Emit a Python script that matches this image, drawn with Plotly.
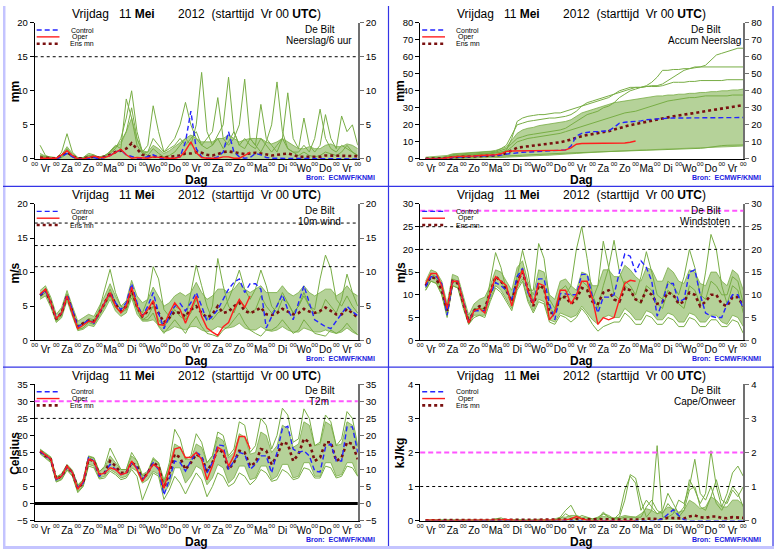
import plotly.graph_objects as go

W, H = 778, 554
FONT = "Liberation Sans, Arial, sans-serif"

# time axis: 6-hourly steps from +6h to +360h (15 days from Vr 11 Mei 00 UTC)
hours = list(range(6, 361, 6))
oper_hours = hours[:40]
midnights = list(range(0, 361, 24))
noons = list(range(12, 360, 24))
day_names = ["Vr", "Za", "Zo", "Ma", "Di", "Wo", "Do", "Vr",
             "Za", "Zo", "Ma", "Di", "Wo", "Do", "Vr"]

# ---------------- Neerslag / 6 uur (mm) ----------------
rr_control = [0, 0, 0, 0, 0.3, 0.8, 0.3, 0, 0, 0.1, 0.2, 0, 0.2, 0.5, 1.0, 1.3,
              0.6, 0.3, 0.1, 0.1, 0.3, 0.6, 0.2, 0, 0, 0.1, 0.3, 2.5, 7.0, 1.5, 0.3, 0.1,
              0.1, 0.3, 1.0, 4.0, 1.0, 0.3, 0.1, 0.2, 0.8, 0.6, 0.2, 0.1, 0.1, 0.1, 0.1, 0.1,
              0.1, 0, 0, 0, 0, 0, 0, 0, 0, 0, 0, 0]
rr_oper = [0.1, 0.1, 0, 0.1, 0.6, 1.2, 0.5, 0, 0, 0.2, 0.4, 0.2, 0.2, 0.5, 1.0, 1.4,
           0.6, 0.1, 0.2, 0.1, 0.1, 0.3, 0.2, 0.1, 0.1, 0.1, 0.3, 1.2, 2.5, 0.9, 0.2, 0.1,
           0.1, 0.1, 0.3, 0.3, 0.1, 0.1, 0.5, 1.0]
rr_mean = [0.2, 0.1, 0.1, 0.1, 0.5, 1.0, 0.4, 0.1, 0.1, 0.2, 0.3, 0.2, 0.3, 0.6, 1.0, 1.2,
           1.5, 2.3, 1.5, 0.6, 0.4, 0.4, 0.3, 0.2, 0.3, 0.4, 0.5, 0.8, 0.8, 1.0, 0.9, 0.6,
           0.5, 0.7, 1.0, 1.1, 1.0, 0.8, 0.7, 0.8, 0.9, 0.8, 0.6, 0.5, 0.6, 0.7, 0.8, 0.6,
           0.3, 0.3, 0.3, 0.2, 0.3, 0.5, 0.5, 0.4, 0.4, 0.5, 0.5, 0.4]
rr_hi = [0.8, 0.4, 0.3, 0.2, 0.6, 1.8, 0.8, 0.2, 0.2, 0.6, 0.5, 0.3, 0.5, 1.0, 1.8, 2.2,
         4.0, 6.0, 3.0, 1.2, 1.0, 2.0, 1.5, 0.8, 1.2, 1.8, 2.5, 3.0, 3.5, 3.0, 2.5, 2.5,
         2.5, 3.0, 3.0, 3.5, 3.0, 2.5, 2.8, 3.0, 3.0, 3.0, 2.5, 2.2, 2.5, 3.0, 2.5, 2.0,
         1.5, 1.5, 1.8, 1.5, 1.5, 2.0, 2.2, 1.8, 1.8, 2.2, 2.0, 1.5]
rr_members = [
    [0.3, 0.2, 0.1, 0, 0.2, 0.8, 0.3, 0, 0, 0.3, 0.2, 0, 0.3, 0.8, 1.5, 3.0,
     6.0, 10.0, 4.0, 1.0, 0.5, 1.5, 0.8, 0.3, 0.5, 1.0, 2.0, 3.0, 2.0, 5.0, 12.7, 4.0,
     2.0, 3.0, 1.5, 2.5, 4.0, 2.0, 1.5, 3.0, 2.0, 1.0, 2.5, 5.0, 11.3, 4.0, 1.5, 1.0,
     0.5, 1.0, 0.5, 0.3, 0.5, 1.0, 0.8, 0.5, 1.0, 2.0, 1.0, 0.5],
    [2.0, 0.5, 0.2, 0, 1.0, 3.7, 1.0, 0.2, 0.1, 0.5, 0.3, 0.2, 0.5, 1.0, 1.8, 2.5,
     4.0, 7.5, 3.0, 1.0, 2.0, 7.8, 4.0, 1.0, 1.5, 2.0, 3.0, 2.0, 3.0, 4.0, 2.0, 1.5,
     2.0, 3.5, 5.0, 12.0, 4.0, 2.0, 3.0, 2.0, 1.5, 3.0, 2.0, 1.0, 2.0, 3.0, 1.5, 1.0,
     1.0, 2.0, 1.0, 3.0, 7.3, 3.0, 1.5, 1.0, 2.0, 1.5, 1.0, 0.5],
    [0.5, 0.3, 0.1, 0, 0.3, 1.5, 0.5, 0.1, 0.2, 0.8, 0.6, 0.2, 0.3, 1.2, 2.0, 1.5,
     8.8, 6.0, 2.0, 0.8, 1.0, 3.0, 2.0, 1.0, 2.0, 3.0, 5.0, 8.3, 5.0, 3.0, 2.0, 3.0,
     4.0, 9.0, 3.0, 2.0, 3.0, 5.0, 11.7, 3.0, 2.0, 8.0, 3.0, 2.0, 1.0, 3.0, 9.7, 3.0,
     1.5, 6.0, 2.0, 1.0, 2.0, 6.5, 3.0, 1.5, 6.3, 4.0, 5.0, 2.0],
]

# ---------------- Accum Neerslag (mm) ----------------
acc_control = [0, 0, 0, 0.1, 0.5, 1.0, 1.1, 1.2, 1.3, 1.4, 1.5, 1.6, 1.8, 2.0, 2.2, 2.8,
               3.3, 3.7, 3.9, 4.0, 4.3, 4.5, 4.6, 4.7, 4.8, 5.0, 5.3, 7.5, 13.5, 15.0, 15.7, 16.0,
               16.1, 16.2, 16.5, 18.5, 21.0, 21.5, 21.7, 21.8, 22.3, 23.0, 23.3, 23.5, 23.7, 23.9, 24.0, 24.0,
               24.1, 24.1, 24.1, 24.2, 24.2, 24.2, 24.2, 24.3, 24.3, 24.3, 24.3, 24.3]
acc_oper = [0, 0, 0, 0.1, 0.7, 1.3, 1.5, 1.5, 1.5, 1.7, 2.0, 2.1, 2.2, 2.4, 3.0, 4.4,
            4.6, 4.7, 4.8, 4.9, 5.0, 5.0, 5.0, 5.0, 5.0, 5.0, 5.3, 6.5, 8.6, 9.0, 9.0, 9.0,
            9.0, 9.1, 9.1, 9.2, 9.3, 9.3, 9.8, 10.5]
acc_mean = [0.1, 0.1, 0.2, 0.3, 0.6, 1.0, 1.1, 1.2, 1.3, 1.5, 1.6, 1.7, 1.8, 2.0, 2.5, 3.3,
            5.0, 6.5, 7.0, 7.4, 7.8, 8.2, 8.5, 8.8, 9.2, 9.8, 10.5, 11.5, 12.5, 13.3, 14.0, 14.5,
            15.0, 15.5, 16.3, 17.2, 18.3, 19.0, 19.8, 20.5, 21.2, 22.0, 22.6, 23.2, 23.8, 24.4, 25.0, 25.6,
            26.1, 26.6, 27.0, 27.5, 28.0, 28.5, 29.0, 29.6, 30.2, 30.7, 31.2, 31.6]
acc_lo = [0, 0, 0, 0, 0, 0.2, 0.3, 0.3, 0.3, 0.4, 0.5, 0.5, 0.5, 0.6, 0.8, 1.0,
          1.2, 1.5, 1.6, 1.7, 1.8, 2.0, 2.1, 2.2, 2.3, 2.5, 2.7, 3.0, 3.2, 3.5, 3.7, 3.9,
          4.0, 4.2, 4.4, 4.5, 4.6, 4.8, 5.0, 5.1, 5.2, 5.3, 5.4, 5.5, 5.6, 5.7, 5.8, 6.0,
          6.1, 6.2, 6.3, 6.5, 6.6, 6.7, 6.8, 7.0, 7.0, 7.2, 7.4, 7.6]
acc_hi = [1.0, 1.2, 1.3, 1.5, 2.0, 3.0, 3.2, 3.3, 3.5, 3.8, 4.0, 4.2, 4.5, 5.0, 6.0, 7.0,
          11, 15, 17, 18, 18.5, 19.5, 20, 20.5, 21, 21.5, 22, 23, 25, 27, 28, 29,
          30, 31, 32, 33, 33.5, 34, 34.5, 35, 35.5, 36, 36.5, 37, 37, 37.5, 37.5, 38,
          38, 38.5, 38.5, 39, 39, 39.5, 39.5, 40, 40, 40.5, 40.5, 41]
acc_members = [
    [0.2, 0.3, 0.4, 0.5, 1, 2, 2.3, 2.5, 2.7, 3, 3.2, 3.4, 3.6, 4, 5, 6,
     9, 12, 13, 14, 14.5, 15, 15.5, 16, 16.5, 17, 18, 20, 22, 24, 26, 27,
     28, 30, 31, 33, 36, 38, 40, 41, 42, 43, 45, 48, 52, 52, 52.5, 52.5,
     53, 53, 53.5, 54, 55, 58, 61, 62, 63, 64, 65, 65],
    [0.1, 0.2, 0.3, 0.4, 0.8, 1.5, 1.8, 2, 2.2, 2.4, 2.6, 2.8, 3, 3.5, 4, 5,
     12, 22, 24, 25, 25.5, 26, 26, 26.5, 27, 27, 28, 29, 30, 31, 32, 33,
     34, 35, 36, 38, 40, 41, 42, 42, 42, 42.5, 43, 43, 44, 46, 48, 50,
     52, 53, 54, 54, 54, 54, 54, 54, 54, 54, 54, 54],
    [0, 0.1, 0.1, 0.2, 0.3, 0.5, 0.6, 0.7, 0.8, 0.9, 1, 1, 1.1, 1.2, 1.4, 1.5,
     1.7, 2, 2.2, 2.4, 2.5, 2.6, 2.8, 3, 3, 3.2, 3.4, 3.5, 3.6, 3.8, 4, 4.1,
     4.2, 4.4, 4.5, 4.6, 4.7, 4.8, 4.9, 5, 5, 5, 5.1, 5.2, 5.3, 5.5, 5.5, 5.6,
     5.7, 5.8, 6, 6.2, 6.5, 7, 7.5, 7.8, 8, 8, 8.1, 8.2],
    [0.2, 0.3, 0.4, 0.5, 1, 1.5, 1.7, 2, 2.2, 2.5, 2.7, 3, 3.2, 3.5, 4, 4.5,
     7, 10, 11, 12, 12.5, 13, 13.5, 14, 14.5, 15, 16, 17, 18, 19, 20, 21,
     22, 23, 24, 25, 26, 27, 27.5, 28, 29, 30, 31, 32, 33, 34, 34.5, 35,
     35.5, 36, 36, 36.5, 37, 37, 37, 37, 37, 37.5, 37.5, 37.5],
    [0.3, 0.5, 0.6, 0.8, 1.5, 2.5, 2.8, 3, 3.2, 3.4, 3.6, 3.8, 4, 4.5, 6, 8,
     14, 20, 21, 22, 22.5, 23, 23.5, 24, 24, 24.5, 25, 26, 28, 31, 33, 34,
     35, 36, 37, 38, 39, 40, 41, 42, 42, 42.5, 42.5, 42.5, 43, 44, 45, 45,
     45, 45.5, 45.5, 46, 46, 46, 46, 46, 46.5, 46.5, 46.5, 46.5],
]

# ---------------- 10 m wind (m/s) ----------------
w10_control = [6.6, 7.3, 5.5, 3.3, 4.0, 6.7, 4.5, 2.0, 2.4, 3.0, 2.5, 4.0, 5.5, 7.0, 5.5, 4.5,
               5.5, 8.3, 5.5, 3.5, 5.0, 7.0, 4.0, 1.7, 3.5, 5.0, 5.4, 4.3, 5.5, 7.0, 5.0, 2.8,
               3.5, 4.5, 6.0, 7.5, 8.5, 9.0, 7.0, 8.3, 8.3, 7.5, 1.8, 3.5, 5.0, 6.7, 4.5, 3.0,
               5.5, 8.0, 5.5, 3.0, 2.5, 2.0, 1.7, 2.8, 4.0, 5.0, 4.2, 3.6]
w10_oper = [6.8, 7.5, 5.5, 3.2, 4.0, 6.5, 4.0, 1.7, 2.2, 2.8, 2.6, 4.0, 5.5, 7.0, 5.0, 4.0,
            5.0, 7.8, 5.0, 3.5, 4.5, 5.8, 2.3, 2.2, 4.0, 5.5, 4.5, 2.5, 4.5, 6.5, 3.5, 1.8,
            1.2, 0.7, 2.0, 2.6, 4.5, 6.0, 4.8, 6.5]
w10_mean = [6.6, 7.3, 5.5, 3.1, 4.0, 6.6, 4.2, 2.0, 2.5, 2.9, 2.8, 4.0, 5.5, 7.0, 5.3, 4.3,
            5.0, 7.5, 5.0, 3.5, 4.3, 5.5, 4.0, 2.6, 3.3, 4.2, 4.0, 3.5, 4.5, 5.0, 4.0, 3.3,
            3.8, 5.0, 4.0, 4.2, 5.0, 5.5, 4.3, 4.0, 4.3, 4.8, 3.8, 3.7, 4.0, 4.6, 4.2, 3.8,
            4.0, 4.6, 4.2, 4.0, 4.3, 4.8, 4.3, 3.8, 3.8, 4.6, 4.0, 3.3]
w10_lo = [6.0, 6.5, 4.8, 2.6, 3.3, 5.8, 3.5, 1.4, 1.6, 2.2, 2.0, 3.2, 4.5, 6.0, 4.3, 3.5,
          4.0, 6.2, 3.8, 2.8, 2.8, 3.0, 2.2, 1.2, 1.5, 2.0, 1.8, 1.5, 2.0, 2.0, 1.5, 1.2,
          1.5, 2.0, 1.8, 1.8, 2.0, 2.5, 1.8, 1.5, 1.5, 2.0, 1.5, 1.3, 1.5, 2.0, 1.5, 1.2,
          1.2, 1.8, 1.5, 1.2, 1.2, 1.5, 1.2, 1.0, 1.2, 1.8, 1.2, 0.8]
w10_hi = [7.3, 8.0, 6.3, 3.8, 4.8, 7.3, 5.0, 2.8, 3.3, 3.8, 3.5, 5.0, 6.5, 8.3, 6.5, 5.0,
          5.8, 8.8, 6.5, 5.5, 6.0, 7.8, 6.5, 5.0, 5.5, 6.5, 7.0, 6.5, 7.0, 8.5, 7.0, 6.0,
          6.5, 7.5, 7.5, 7.0, 7.5, 8.5, 7.5, 7.0, 7.5, 8.0, 7.0, 7.0, 7.0, 8.0, 7.0, 6.5,
          7.0, 8.0, 7.0, 6.5, 7.0, 7.5, 7.5, 6.5, 7.0, 8.0, 7.0, 6.5]
w10_members = [
    [6.5, 7.3, 5.5, 3.0, 4.0, 6.5, 4.0, 2.0, 2.5, 3.0, 2.7, 4.0, 5.5, 7.5, 5.5, 4.5,
     5.0, 7.5, 5.0, 4.0, 6.0, 10.8, 9.0, 4.5, 3.5, 5.0, 4.5, 3.0, 4.0, 6.0, 4.0, 3.0,
     5.0, 12.0, 8.0, 5.0, 4.0, 6.0, 5.0, 4.0, 4.5, 6.5, 5.0, 4.0, 5.0, 7.0, 5.5, 4.0,
     5.0, 6.5, 5.0, 4.5, 9.0, 12.5, 10.5, 6.0, 5.0, 6.5, 5.0, 4.0],
    [6.8, 7.6, 5.8, 3.2, 4.2, 6.8, 4.4, 2.2, 2.4, 3.2, 3.0, 4.5, 7.5, 10.4, 7.0, 5.0,
     4.5, 7.0, 4.5, 3.0, 3.5, 5.0, 3.0, 2.0, 3.0, 4.5, 3.5, 3.0, 7.0, 11.0, 8.0, 5.0,
     3.0, 4.0, 4.5, 6.0, 8.0, 10.3, 7.5, 6.0, 7.5, 10.3, 8.0, 5.0, 4.0, 6.0, 5.5, 4.0,
     5.0, 7.0, 5.0, 4.0, 4.0, 6.0, 5.0, 4.0, 6.0, 9.7, 7.0, 5.0],
    [6.3, 7.0, 5.2, 2.8, 3.6, 6.2, 3.8, 1.6, 1.8, 2.6, 2.3, 3.6, 5.0, 6.5, 4.8, 4.0,
     4.5, 6.8, 4.5, 3.0, 3.0, 4.0, 2.0, 1.0, 2.0, 3.0, 2.0, 1.0, 2.5, 3.5, 2.0, 1.0,
     0.8, 0.5, 1.5, 2.0, 3.0, 4.0, 2.5, 1.5, 1.0, 0.6, 1.5, 1.5, 2.0, 3.0, 2.0, 1.0,
     1.5, 3.0, 2.0, 1.0, 0.8, 0.6, 1.5, 1.0, 1.5, 2.5, 1.5, 0.8],
]

# ---------------- Windstoten (m/s) ----------------
gust_control = [11.8, 14.0, 14.0, 12.5, 5.5, 13.0, 13.0, 8.5, 4.0, 6.5, 6.5, 6.5, 10.0, 12.7, 12.0, 11.0,
                9.0, 14.0, 15.8, 10.5, 8.0, 13.5, 13.5, 8.0, 4.5, 10.3, 10.2, 10.0, 10.0, 14.5, 14.5, 9.5,
                6.0, 9.5, 9.5, 10.0, 15.0, 19.0, 18.5, 15.0, 17.5, 16.0, 13.0, 5.3, 8.5, 12.5, 12.5, 8.5,
                9.0, 15.0, 15.5, 10.0, 6.0, 5.3, 5.0, 5.0, 8.0, 10.0, 10.0, 7.0]
gust_oper = [12.5, 14.7, 14.7, 12.0, 7.0, 13.0, 13.0, 8.5, 3.8, 6.5, 7.0, 6.0, 10.5, 14.0, 13.0, 12.0,
             7.5, 12.0, 15.5, 11.0, 8.0, 12.5, 12.0, 4.5, 6.0, 11.0, 11.0, 8.0, 10.0, 13.0, 13.0, 9.0,
             3.5, 5.0, 4.5, 5.0, 9.0, 12.5, 13.2, 13.0]
gust_mean = [12.0, 14.0, 13.5, 11.0, 6.5, 13.0, 12.5, 8.5, 4.0, 6.5, 7.5, 7.0, 10.5, 14.0, 13.0, 11.0,
             8.5, 13.0, 15.0, 11.0, 7.5, 12.0, 11.5, 6.0, 6.0, 9.5, 9.5, 8.0, 9.0, 11.5, 11.0, 8.5,
             8.0, 10.5, 11.0, 9.0, 8.5, 11.5, 11.0, 9.0, 8.5, 11.0, 10.0, 8.0, 8.5, 10.5, 10.0, 8.0,
             8.5, 10.5, 10.0, 7.5, 8.5, 10.0, 10.0, 8.0, 7.5, 9.5, 9.5, 7.5]
gust_lo = [11, 13, 12.5, 10, 5.5, 12, 11.5, 7.5, 3.5, 5.5, 5.5, 5.5, 9, 12, 11, 9,
           7, 11.5, 13.5, 9, 6.5, 9, 8.5, 4.5, 4, 6, 5.5, 5, 5.5, 7.5, 6, 4.5,
           3.5, 5, 5.5, 5, 5, 7, 6, 4.5, 4.5, 6.5, 6, 4.5, 4.5, 6, 5.5, 4,
           4, 6, 5.5, 4, 4, 5.5, 5.5, 4, 3.5, 5.5, 5, 3]
gust_hi = [13, 15.5, 15, 13, 8, 14.5, 14, 10, 5.5, 8, 9, 9.5, 12, 15.5, 15, 13,
           11, 16, 17.5, 13, 10, 15.5, 15, 10, 9, 13, 13.5, 12, 11, 15, 14.5, 12,
           12, 15.5, 15.5, 14, 14, 16.5, 15.5, 14, 13, 16, 15.5, 13, 13, 16, 15, 13,
           12.5, 15.5, 15, 12.5, 12, 15, 15, 13, 12, 15.5, 14.5, 11]
gust_members = [
    [12, 14.5, 14, 12, 6.5, 13.5, 13, 8.5, 4.5, 7, 7, 7, 10.5, 14, 13, 10.5,
     9, 14, 19.8, 15, 8, 12, 11, 7, 6, 9, 10, 12, 20, 25, 18, 10,
     7, 12, 16, 22, 15, 12, 11, 9, 8, 12, 11, 8, 7, 11, 10, 8,
     7, 12, 11, 8, 15, 23.3, 20, 12, 8, 12, 11, 6],
    [11.5, 14, 13.5, 11, 6, 13, 12.5, 8, 4, 6.5, 7, 6.5, 13, 19.3, 16, 11,
     8, 13, 16, 11, 11, 21.3, 18, 9, 7, 11, 12, 10, 9, 13, 12, 9,
     12, 21.8, 16, 10, 9, 13, 12, 10, 14, 19.5, 15, 10, 9, 13, 12, 10,
     14, 20, 16, 10, 9, 13, 12, 10, 10, 14, 13, 8],
    [11, 13, 12.5, 10, 5, 12, 11.5, 7, 3.5, 5, 5.5, 5, 8.5, 11.5, 10.5, 8.5,
     6.5, 11, 13, 8.5, 6, 8.5, 8, 4, 3.5, 5.5, 5, 4, 5, 7, 5.5, 3.5,
     2, 3, 3.5, 4, 4, 6, 5, 3.5, 3.5, 5.5, 5, 3.5, 3.5, 5, 4.5, 3,
     3, 5, 4.5, 3, 3, 4.5, 4.5, 3, 3, 4.5, 4, 1.5],
]

# ---------------- T2m (Celsius) ----------------
t2m_control = [15.3, 14.0, 13.0, 7.0, 8.0, 10.8, 9.0, 4.7, 6.0, 13.5, 12.5, 8.0, 9.0, 11.5, 10.0, 8.5,
               9.0, 12.0, 10.5, 7.0, 9.0, 12.0, 10.0, 2.5, 7.0, 12.5, 12.0, 9.5, 12.5, 15.0, 14.0, 9.0,
               12.0, 17.2, 17.0, 10.0, 12.5, 15.0, 14.5, 10.0, 11.5, 14.0, 14.0, 9.0, 15.0, 22.0, 22.7, 16.0,
               15.0, 15.5, 14.0, 9.5, 9.3, 16.5, 17.5, 12.5, 12.5, 22.5, 22.5, 15.0]
t2m_oper = [15.5, 14.2, 13.0, 7.2, 8.0, 11.0, 9.0, 4.2, 6.5, 13.0, 12.5, 8.5, 9.0, 10.5, 10.0, 8.5,
            9.0, 12.5, 10.0, 6.5, 9.0, 11.5, 10.5, 4.5, 10.0, 16.0, 16.5, 13.5, 13.5, 15.0, 13.0, 7.0,
            11.0, 16.5, 15.5, 11.0, 14.0, 19.7, 19.7, 16.0]
t2m_mean = [15.3, 14.0, 13.0, 7.2, 8.0, 10.8, 9.0, 4.5, 6.0, 13.0, 12.5, 8.5, 9.0, 12.5, 11.0, 9.0,
            9.0, 12.0, 11.0, 7.0, 9.0, 12.0, 11.0, 4.5, 9.0, 14.5, 13.5, 10.0, 12.0, 14.5, 13.5, 9.5,
            12.0, 16.0, 15.0, 10.0, 12.0, 15.5, 15.0, 11.0, 12.0, 16.0, 15.5, 11.5, 14.0, 18.0, 17.5, 12.5,
            14.5, 19.0, 18.0, 12.5, 13.5, 18.0, 18.0, 12.5, 13.5, 18.0, 17.5, 13.0]
t2m_lo = [14.8, 13.5, 12.3, 6.5, 7.2, 10.0, 8.3, 3.5, 5.2, 11.5, 11.0, 7.5, 8.0, 10.0, 9.0, 7.5,
          8.0, 10.5, 9.5, 6.0, 7.0, 9.5, 8.5, 3.0, 5.5, 10.5, 10.5, 6.0, 8.0, 11.0, 10.0, 5.5,
          7.5, 11.5, 10.5, 6.0, 7.5, 11.0, 11.0, 7.0, 7.5, 11.0, 11.0, 7.0, 8.0, 11.5, 11.5, 7.5,
          8.0, 12.0, 12.0, 8.0, 8.0, 12.0, 12.0, 8.0, 8.5, 12.0, 12.0, 8.0]
t2m_hi = [16.0, 14.8, 13.7, 7.8, 8.8, 11.5, 9.8, 5.5, 7.0, 14.0, 13.5, 9.5, 10.5, 14.0, 12.0, 10.0,
          10.0, 14.0, 12.5, 8.5, 9.5, 13.5, 12.0, 7.0, 11.0, 17.5, 16.5, 13.0, 13.0, 17.5, 16.5, 12.0,
          14.0, 19.5, 18.5, 13.5, 15.0, 20.5, 19.5, 14.5, 15.0, 21.0, 20.0, 15.0, 17.0, 23.0, 22.0, 16.5,
          17.5, 24.0, 23.0, 17.0, 17.5, 24.0, 23.0, 17.0, 17.5, 24.0, 23.0, 16.5]
t2m_members = [
    [15.8, 14.6, 13.5, 7.6, 8.6, 11.3, 9.6, 5.3, 6.8, 13.8, 13.3, 9.3, 11, 16.3, 13, 10,
     10, 15, 12.5, 8, 9, 13, 12, 6, 12, 21.8, 19, 13, 14, 20.5, 18, 12,
     14, 21, 20, 14, 16, 24, 23, 15, 17, 25, 23, 16, 20, 28, 26, 18,
     19, 27.8, 25, 17, 18, 26, 24, 17, 19, 27, 25, 17],
    [14.6, 13.3, 12, 6.3, 7, 9.8, 8, 3.2, 5, 11, 10.5, 7.2, 7.5, 9.5, 8.5, 7,
     7.5, 10, 8, 1, 5, 9, 8, 1.2, 4, 8, 6, 2.8, 6, 9, 7, 2,
     5, 9, 8, 5, 6, 9, 8, 5.5, 7, 10, 9, 6.5, 7, 10, 9, 7,
     7.5, 10.5, 10, 7.5, 7.5, 11, 10.5, 7.5, 8, 11, 10.5, 8],
]

# ---------------- Cape / Onweer (kJ/kg) ----------------
cape_control = [0, 0, 0, 0, 0, 0, 0, 0, 0, 0, 0, 0, 0, 0, 0, 0,
                0, 0, 0, 0, 0, 0, 0, 0, 0, 0, 0, 0, 0, 0, 0, 0,
                0, 0, 0, 0, 0, 0, 0, 0, 0, 0, 0, 0, 0.05, 0.2, 0.32, 0.15,
                0.02, 0, 0, 0, 0, 0, 0, 0, 0, 0, 0, 0]
cape_oper = [0.01, 0.02, 0.01, 0, 0, 0, 0, 0, 0, 0, 0, 0, 0, 0.01, 0.02, 0.03,
             0.01, 0, 0, 0, 0, 0, 0, 0, 0, 0.01, 0.02, 0.05, 0.12, 0.05, 0.01, 0,
             0, 0, 0, 0, 0, 0, 0, 0]
cape_mean = [0.01, 0.01, 0.01, 0.01, 0.01, 0.01, 0.01, 0.01, 0.01, 0.01, 0.01, 0.01, 0.01, 0.01, 0.01, 0.01,
             0.01, 0.01, 0.01, 0.01, 0.01, 0.01, 0.01, 0.01, 0.01, 0.02, 0.03, 0.04, 0.04, 0.03, 0.02, 0.02,
             0.02, 0.03, 0.02, 0.02, 0.02, 0.03, 0.04, 0.03, 0.03, 0.05, 0.06, 0.04, 0.04, 0.08, 0.08, 0.06,
             0.06, 0.12, 0.15, 0.10, 0.08, 0.12, 0.12, 0.08, 0.07, 0.10, 0.10, 0.08]
cape_hi = [0.03, 0.03, 0.02, 0.02, 0.01, 0.02, 0.01, 0.01, 0.01, 0.02, 0.01, 0.01, 0.02, 0.05, 0.03, 0.02,
           0.02, 0.04, 0.02, 0.01, 0.02, 0.04, 0.02, 0.01, 0.05, 0.1, 0.1, 0.15, 0.15, 0.1, 0.08, 0.05,
           0.08, 0.12, 0.1, 0.08, 0.1, 0.15, 0.12, 0.1, 0.2, 0.35, 0.3, 0.2, 0.25, 0.4, 0.35, 0.25,
           0.3, 0.6, 0.5, 0.35, 0.4, 0.7, 0.6, 0.4, 0.4, 0.6, 0.6, 0.45]
cape_members = [
    [0, 0, 0, 0, 0, 0, 0, 0, 0, 0, 0, 0, 0, 0.05, 0.08, 0.02,
     0, 0, 0, 0, 0, 0, 0, 0, 0, 0.1, 0.3, 0.45, 0.15, 0.05, 0.02, 0,
     0.05, 0.25, 0.1, 0.05, 0.1, 0.6, 1.35, 1.25, 0.6, 0.1, 0.3, 2.2, 0.1, 0.1, 0.2, 0.6,
     0.5, 1.0, 1.8, 0.8, 0.6, 1.0, 0.5, 0.3, 0.6, 1.0, 0.8, 0.4],
    [0, 0, 0, 0, 0, 0, 0, 0, 0, 0, 0, 0, 0, 0, 0, 0,
     0, 0, 0, 0, 0, 0, 0, 0, 0, 0, 0, 0, 0, 0, 0, 0,
     0, 0.2, 0.1, 0.05, 0.2, 0.9, 1.3, 1.1, 0.3, 0.6, 0.4, 0.2, 0.3, 0.8, 0.5, 0.2,
     0.4, 1.2, 0.9, 0.5, 0.8, 2.05, 1.0, 0.4, 0.8, 1.4, 1.6, 1.3],
    [0, 0, 0, 0, 0, 0, 0, 0, 0, 0, 0, 0, 0, 0, 0, 0,
     0, 0, 0, 0, 0, 0, 0, 0, 0.02, 0.05, 0.2, 0.1, 0.05, 0.15, 0.1, 0.05,
     0.1, 0.2, 0.15, 0.05, 0.05, 0.1, 0.1, 0.1, 0.1, 0.4, 0.6, 0.3, 0.2, 0.5, 0.3, 0.1,
     0.3, 0.9, 1.0, 0.4, 0.3, 0.7, 1.2, 0.6, 0.5, 0.9, 0.7, 1.0],
]

# ---------------- panels ----------------
GREEN = "#78ad45"
BAND = "rgba(120,173,69,0.55)"
BLUE = "#2424ff"
RED = "#ff1e1e"
DKRED = "#7a1010"
MAGENTA = "#ff55ff"

panels = [
    dict(ox=0, oy=0, name="Neerslag/6 uur", unit="mm", yr=[0, 20], dt=5,
         ctl=rr_control, op=rr_oper, mn=rr_mean, lo=None, hi=rr_hi, mem=rr_members,
         dotted=[15], magenta=[], thick=[]),
    dict(ox=389, oy=0, name="Accum Neerslag", unit="mm", yr=[0, 80], dt=10,
         ctl=acc_control, op=acc_oper, mn=acc_mean, lo=acc_lo, hi=acc_hi, mem=acc_members,
         dotted=[], magenta=[], thick=[]),
    dict(ox=0, oy=185, name="10m wind", unit="m/s", yr=[0, 20], dt=5,
         ctl=w10_control, op=w10_oper, mn=w10_mean, lo=w10_lo, hi=w10_hi, mem=w10_members,
         dotted=[10.8, 13.9, 17.2], magenta=[], thick=[]),
    dict(ox=389, oy=185, name="Windstoten", unit="m/s", yr=[0, 30], dt=5,
         ctl=gust_control, op=gust_oper, mn=gust_mean, lo=gust_lo, hi=gust_hi, mem=gust_members,
         dotted=[20, 25], magenta=[28.5], thick=[]),
    dict(ox=0, oy=369, name="T2m", unit="Celsius", yr=[-5, 35], dt=5,
         ctl=t2m_control, op=t2m_oper, mn=t2m_mean, lo=t2m_lo, hi=t2m_hi, mem=t2m_members,
         dotted=[25], magenta=[30], thick=[0]),
    dict(ox=389, oy=369, name="Cape/Onweer", unit="kJ/kg", yr=[0, 4], dt=1,
         ctl=cape_control, op=cape_oper, mn=cape_mean, lo=None, hi=cape_hi, mem=cape_members,
         dotted=[1], magenta=[2], thick=[]),
]


def px(x):
    return x / W


def py(y):
    return 1 - y / H


fig = go.Figure()
layout = dict(width=W, height=H, margin=dict(l=0, r=0, t=0, b=0), autosize=False,
              paper_bgcolor="white", plot_bgcolor="white", showlegend=False,
              font=dict(family=FONT, color="black"))
shapes = []
annotations = []

title_txt = ("Vrijdag\u00a0\u00a0 11 <b>Mei</b>\u00a0\u00a0\u00a0\u00a0\u00a0\u00a0 2012\u00a0 "
             "(starttijd\u00a0 Vr 00 <b>UTC</b>)")

for k, p in enumerate(panels, start=1):
    sx = "" if k == 1 else str(k)
    xa, ya = "x" + sx, "y" + sx
    yr_ax = "y" + str(k + 6)      # right-hand y axis
    x00 = "x" + str(k + 6)        # second x axis carrying the "00" labels
    ox, oy = p["ox"], p["oy"]

    # ensemble plume
    if p["lo"] is not None:
        fig.add_trace(go.Scatter(x=hours, y=p["lo"], mode="lines", xaxis=xa, yaxis=ya,
                                 line=dict(color=GREEN, width=0.8), hoverinfo="skip"))
        fig.add_trace(go.Scatter(x=hours, y=p["hi"], mode="lines", xaxis=xa, yaxis=ya,
                                 fill="tonexty", fillcolor=BAND,
                                 line=dict(color=GREEN, width=0.8), hoverinfo="skip"))
    else:
        fig.add_trace(go.Scatter(x=hours, y=p["hi"], mode="lines", xaxis=xa, yaxis=ya,
                                 fill="tozeroy", fillcolor=BAND,
                                 line=dict(color=GREEN, width=0.8), hoverinfo="skip"))
    for m in p["mem"]:
        fig.add_trace(go.Scatter(x=hours, y=m, mode="lines", xaxis=xa, yaxis=ya,
                                 line=dict(color=GREEN, width=1), hoverinfo="skip"))

    fig.add_trace(go.Scatter(x=hours, y=p["mn"], mode="lines", xaxis=xa, yaxis=ya,
                             line=dict(color=DKRED, width=2.6, dash="dot"), name="Ens mn"))
    fig.add_trace(go.Scatter(x=hours, y=p["ctl"], mode="lines", xaxis=xa, yaxis=ya,
                             line=dict(color=BLUE, width=1.4, dash="5px,3px"), name="Control"))
    fig.add_trace(go.Scatter(x=oper_hours, y=p["op"], mode="lines", xaxis=xa, yaxis=ya,
                             line=dict(color=RED, width=1.4), name="Oper"))
    # carriers for the extra axes
    fig.add_trace(go.Scatter(x=[None], y=[None], xaxis=xa, yaxis=yr_ax, hoverinfo="skip"))
    fig.add_trace(go.Scatter(x=[None], y=[None], xaxis=x00, yaxis=ya, hoverinfo="skip"))

    xdom = [px(ox + 32), px(ox + 358)]
    ydom = [py(oy + 156), py(oy + 17)]
    yt = list(range(p["yr"][0], p["yr"][1] + 1, p["dt"]))
    layout["xaxis" + sx] = dict(domain=xdom, anchor=ya, range=[0, 360], tickvals=noons,
                                ticktext=day_names, ticks="", showline=True, linecolor="black",
                                linewidth=1, showgrid=False, zeroline=False,
                                tickfont=dict(size=10), tickangle=0, ticklabelstandoff=0)
    layout["xaxis" + str(k + 6)] = dict(domain=xdom, anchor=ya, overlaying=xa, side="bottom",
                                        range=[0, 360], tickvals=midnights,
                                        ticktext=["00"] * len(midnights), ticks="",
                                        showline=False, showgrid=False, zeroline=False,
                                        tickfont=dict(size=6), tickangle=0)
    layout["yaxis" + sx] = dict(domain=ydom, anchor=xa, range=p["yr"], tickvals=yt,
                                ticks="outside", ticklen=4, tickcolor="black", showline=True,
                                linecolor="black", linewidth=1, showgrid=False, zeroline=False,
                                tickfont=dict(size=9.5))
    layout["yaxis" + str(k + 6)] = dict(overlaying=ya, side="right", anchor=xa, range=p["yr"],
                                        tickvals=yt, ticks="outside", ticklen=4,
                                        tickcolor="#707070", showline=True, linecolor="#707070",
                                        linewidth=2, showgrid=False, zeroline=False,
                                        tickfont=dict(size=9.5))

    # reference levels
    for v in p["dotted"]:
        shapes.append(dict(type="line", xref=xa + " domain", yref=ya, x0=0, x1=1, y0=v, y1=v,
                           line=dict(color="black", width=1, dash="dot")))
    for v in p["magenta"]:
        shapes.append(dict(type="line", xref=xa + " domain", yref=ya, x0=0, x1=1, y0=v, y1=v,
                           line=dict(color=MAGENTA, width=2, dash="5px,3px")))
    for v in p["thick"]:
        shapes.append(dict(type="line", xref=xa + " domain", yref=ya, x0=0, x1=1, y0=v, y1=v,
                           line=dict(color="black", width=3)))

    # legend
    leg = [("Control", BLUE, "5px,3px", 1.4, 24.5, 80),
           ("Oper", RED, "solid", 1.4, 31.5, 78),
           ("Ens mn", DKRED, "dot", 2.6, 38.5, 80)]
    for label, col, dash, lw, ly, tx in leg:
        shapes.append(dict(type="line", xref="paper", yref="paper",
                           x0=px(ox + 34), x1=px(ox + 57), y0=py(oy + ly), y1=py(oy + ly),
                           line=dict(color=col, width=lw, dash=dash)))
        annotations.append(dict(text=label, xref="paper", yref="paper", x=px(ox + tx),
                                y=py(oy + ly), showarrow=False, font=dict(size=7),
                                xanchor="center", yanchor="middle"))

    annotations += [
        dict(text=title_txt, xref="paper", yref="paper", x=px(ox + 195), y=py(oy + 8),
             showarrow=False, font=dict(size=12), xanchor="center", yanchor="middle"),
        dict(text="De Bilt", xref="paper", yref="paper", x=px(ox + 320), y=py(oy + 23.5),
             showarrow=False, font=dict(size=10), xanchor="center", yanchor="middle"),
        dict(text=p["name"], xref="paper", yref="paper", x=px(ox + 319), y=py(oy + 35),
             showarrow=False, font=dict(size=10), xanchor="center", yanchor="middle"),
        dict(text="<b>Dag</b>", xref="paper", yref="paper", x=px(ox + 195), y=py(oy + 177.5),
             showarrow=False, font=dict(size=12), xanchor="center", yanchor="middle"),
        dict(text="<b>Bron:  ECMWF/KNMI</b>", xref="paper", yref="paper", x=px(ox + 341),
             y=py(oy + 175), showarrow=False, font=dict(size=7, color="#2020e0"),
             xanchor="center", yanchor="middle"),
        dict(text="<b>" + p["unit"] + "</b>", xref="paper", yref="paper", x=px(ox + 12),
             y=py(oy + 87), showarrow=False, font=dict(size=12), textangle=-90,
             xanchor="center", yanchor="middle"),
    ]

# panel frame
frame_blue = "#3434e6"
lavender = "#c4c4ff"
shapes += [
    dict(type="rect", xref="paper", yref="paper", x0=0, x1=px(2.5), y0=0, y1=1,
         fillcolor=lavender, line=dict(width=0)),
    dict(type="rect", xref="paper", yref="paper", x0=0, x1=1, y0=0, y1=1 - 551 / H,
         fillcolor=lavender, line=dict(width=0)),
    dict(type="line", xref="paper", yref="paper", x0=0, x1=1, y0=py(184), y1=py(184),
         line=dict(color=frame_blue, width=1.2)),
    dict(type="line", xref="paper", yref="paper", x0=0, x1=1, y0=py(368.5), y1=py(368.5),
         line=dict(color=frame_blue, width=1.2)),
    dict(type="line", xref="paper", yref="paper", x0=px(389), x1=px(389), y0=py(551), y1=1,
         line=dict(color=frame_blue, width=1.2)),
    dict(type="line", xref="paper", yref="paper", x0=px(777), x1=px(777), y0=py(551), y1=1,
         line=dict(color=frame_blue, width=1.2)),
]

layout["shapes"] = shapes
layout["annotations"] = annotations
fig.update_layout(**layout)
fig.write_html("out.html", config={"displayModeBar": False},
               post_script="document.body.style.margin='0';")
